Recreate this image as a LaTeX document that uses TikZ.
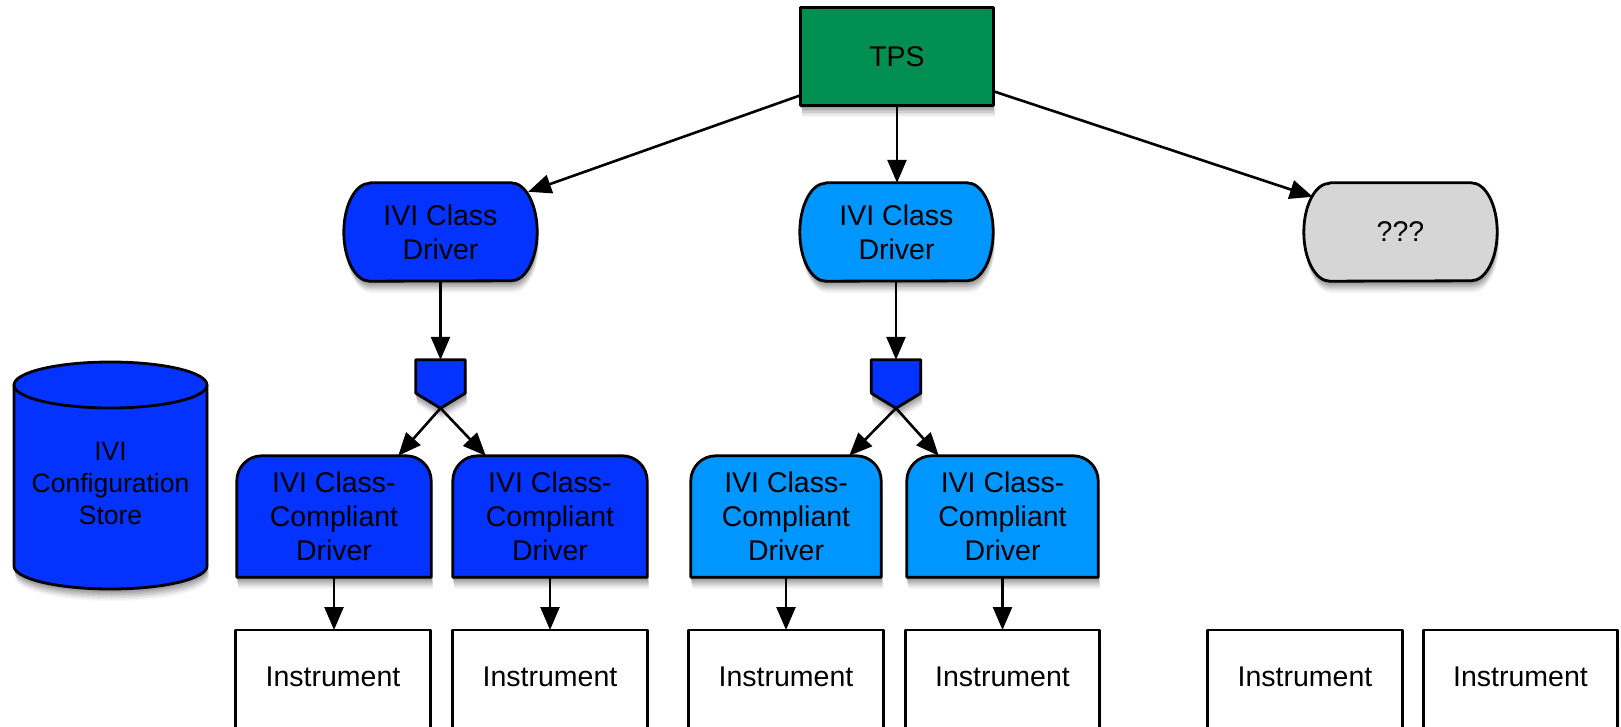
\documentclass[tikz,border=0pt]{standalone}
\usepackage{fontspec}
\setmainfont{Liberation Sans}
\usetikzlibrary{arrows.meta}
\definecolor{ivib}{RGB}{4,51,255}
\definecolor{ivia}{RGB}{0,150,255}
\definecolor{tpsg}{RGB}{0,143,81}
\definecolor{qgray}{RGB}{214,214,214}
\definecolor{sha}{RGB}{246,246,246}
\definecolor{shb}{RGB}{236,236,236}
\definecolor{shc}{RGB}{222,222,222}
\definecolor{shd}{RGB}{207,207,207}
\definecolor{she}{RGB}{191,191,191}
\definecolor{shf}{RGB}{176,176,176}
\definecolor{shg}{RGB}{158,158,158}
\definecolor{shh}{RGB}{140,140,140}
% path macros: #1 node name, #2 options, #3 dx, #4 dy
\newcommand\capsulepath[4]{\path[#2] ([shift={(#3+26,#4)}]#1.north west) -- ([shift={(#3-26,#4)}]#1.north east) arc[start angle=90, end angle=-90, x radius=26pt, y radius=49pt] -- ([shift={(#3+26,#4)}]#1.south west) arc[start angle=270, end angle=90, x radius=26pt, y radius=49pt] -- cycle;}
\newcommand\ccpath[4]{\path[#2] ([shift={(#3,#4)}]#1.south west) -- ([shift={(#3,#4-25)}]#1.north west) arc[start angle=180, end angle=90, radius=25pt] -- ([shift={(#3-25,#4)}]#1.north east) arc[start angle=90, end angle=0, radius=25pt] -- ([shift={(#3,#4)}]#1.south east) -- cycle;}
\newcommand\muxpath[4]{\path[#2] ([shift={(#3,#4)}]#1.north west) -- ([shift={(#3,#4)}]#1.north east) -- ([shift={(#3,#4+15)}]#1.south east) -- ([shift={(#3,#4)}]#1.south) -- ([shift={(#3,#4+15)}]#1.south west) -- cycle;}
\newcommand\rectpath[4]{\path[#2] ([shift={(#3,#4)}]#1.south west) rectangle ([shift={(#3,#4)}]#1.north east);}
\newcommand\cylpath[4]{\path[#2] (14+#3,341+#4) -- (14+#3,160+#4) arc[start angle=180, end angle=360, x radius=96.5pt, y radius=23pt] -- (207+#3,341+#4) arc[start angle=0, end angle=180, x radius=96.5pt, y radius=23pt] -- cycle;}
% shape with soft shadow (solid grey layers): #1 path macro, #2 node name, #3 fill colour
\newcommand\shapeshadowed[3]{%
  #1{#2}{fill=sha}{1.8}{-12}%
  #1{#2}{fill=shb}{1.6}{-10.5}%
  #1{#2}{fill=shc}{1.4}{-9}%
  #1{#2}{fill=shd}{1.1}{-7.5}%
  #1{#2}{fill=she}{0.9}{-6}%
  #1{#2}{fill=shf}{0.7}{-4.5}%
  #1{#2}{fill=shg}{0.5}{-3}%
  #1{#2}{fill=shh}{0.2}{-1.5}%
  #1{#2}{shp, fill=#3}{0}{0}}
\begin{document}
\begin{tikzpicture}[x=1pt,y=1pt,
  every node/.style={font=\fontsize{28.5pt}{34pt}\selectfont, align=center, inner sep=0pt},
  shp/.style={draw=black, line width=2.8pt, line join=round},
  conn/.style={line width=2.6pt, -{Triangle[length=23pt,width=19pt]}},
  capsule/.style={minimum width=193pt, minimum height=98pt},
  ccbox/.style={minimum width=#1, minimum height=121pt},
  muxbox/.style={minimum width=49pt, minimum height=48pt},
  instr/.style={anchor=north, minimum width=194pt, minimum height=120pt},
]
\useasboundingbox (0,0) rectangle (1621,726);

% frames of all boxes (shapes are drawn from their anchors)
\node[minimum width=192pt, minimum height=97pt] (tps) at (897,669.5) {};
\node[capsule] (cd1) at (440.5,494) {};
\node[capsule] (cd2) at (896.5,494) {};
\node[capsule] (q) at (1400.5,494) {};
\node[muxbox] (mux1) at (440.5,342) {};
\node[muxbox] (mux2) at (896,342) {};
\node[ccbox=194pt] (cc1) at (334,209.5) {};
\node[ccbox=194pt] (cc2) at (550,209.5) {};
\node[ccbox=190pt] (cc3) at (786,209.5) {};
\node[ccbox=191pt] (cc4) at (1002.5,209.5) {};
\node[instr] (i1) at (333,96) {};
\node[instr] (i2) at (550,96) {};
\node[instr] (i3) at (786,96) {};
\node[instr] (i4) at (1002.5,96) {};
\node[instr] (i5) at (1305,96) {};
\node[instr] (i6) at (1520.5,96) {};

% shapes with shadows
\shapeshadowed\rectpath{tps}{tpsg}
\shapeshadowed\capsulepath{cd1}{ivib}
\shapeshadowed\capsulepath{cd2}{ivia}
\shapeshadowed\capsulepath{q}{qgray}
\shapeshadowed\muxpath{mux1}{ivib}
\shapeshadowed\muxpath{mux2}{ivib}
\shapeshadowed\ccpath{cc1}{ivib}
\shapeshadowed\ccpath{cc2}{ivib}
\shapeshadowed\ccpath{cc3}{ivia}
\shapeshadowed\ccpath{cc4}{ivia}
\shapeshadowed\rectpath{i1}{white}
\shapeshadowed\rectpath{i2}{white}
\shapeshadowed\rectpath{i3}{white}
\shapeshadowed\rectpath{i4}{white}
\shapeshadowed\rectpath{i5}{white}
\shapeshadowed\rectpath{i6}{white}

% configuration store cylinder
\shapeshadowed\cylpath{}{ivib}
\draw[line width=2.8pt] (14,341) arc[start angle=180, end angle=360, x radius=96.5pt, y radius=23pt];
\node[font=\fontsize{26.5pt}{32pt}\selectfont] (store) at (110.5,242) {IVI\\Configuration\\Store};

% texts
\node (tpst) at (tps) {TPS};
\node (cd1t) at (cd1) {IVI Class\\Driver};
\node (cd2t) at (cd2) {IVI Class\\Driver};
\node (qt) at (q) {???};
\node (cc1t) at (cc1) {IVI Class-\\Compliant\\Driver};
\node (cc2t) at (cc2) {IVI Class-\\Compliant\\Driver};
\node (cc3t) at (cc3) {IVI Class-\\Compliant\\Driver};
\node (cc4t) at (cc4) {IVI Class-\\Compliant\\Driver};
\node[anchor=base] (i1t) at ([yshift=-56pt]i1.north) {Instrument};
\node[anchor=base] (i2t) at ([yshift=-56pt]i2.north) {Instrument};
\node[anchor=base] (i3t) at ([yshift=-56pt]i3.north) {Instrument};
\node[anchor=base] (i4t) at ([yshift=-56pt]i4.north) {Instrument};
\node[anchor=base] (i5t) at ([yshift=-56pt]i5.north) {Instrument};
\node[anchor=base] (i6t) at ([yshift=-56pt]i6.north) {Instrument};

% connectors
\draw[conn] ([yshift=10pt]tps.south west) -- ([xshift=-9pt,yshift=-9pt]cd1.north east);
\draw[conn] (tps.south) -- (tps.south |- cd2.north);
\draw[conn] ([yshift=14pt]tps.south east) -- ([xshift=9pt,yshift=-14pt]q.north west);
\draw[conn] (cd1.south) -- (mux1.north);
\draw[conn] (cd2.south -| mux2.north) -- (mux2.north);
\draw[conn] (mux1.south) -- ([xshift=-33pt]cc1.north east);
\draw[conn] (mux1.south) -- ([xshift=33pt]cc2.north west);
\draw[conn] (mux2.south) -- ([xshift=-32pt]cc3.north east);
\draw[conn] (mux2.south) -- ([xshift=32pt]cc4.north west);
\draw[conn] (cc1.south) -- (cc1.south |- i1.north);
\draw[conn] (cc2.south) -- (cc2.south |- i2.north);
\draw[conn] (cc3.south) -- (cc3.south |- i3.north);
\draw[conn] (cc4.south) -- (cc4.south |- i4.north);
\end{tikzpicture}
\end{document}
